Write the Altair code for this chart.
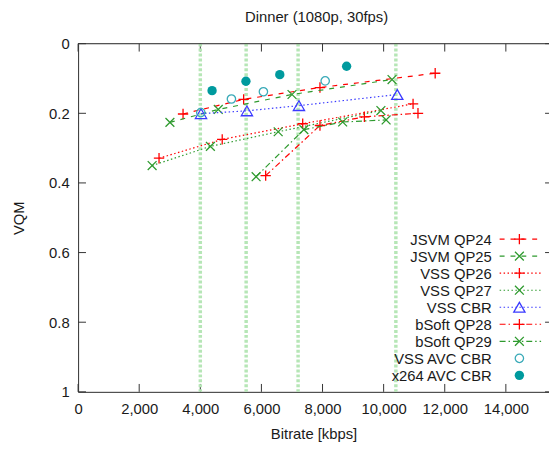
import altair as alt
import pandas as pd

# ---------------- data ----------------
title_text = "Dinner (1080p, 30fps)"
x_title = "Bitrate [kbps]"
y_title = "VQM"

series_names = ["JSVM QP24", "JSVM QP25", "VSS QP26", "VSS QP27", "VSS CBR",
                "bSoft QP28", "bSoft QP29", "VSS AVC CBR", "x264 AVC CBR"]

jsvm_qp24_rate = [3435, 5418, 7916, 11687]
jsvm_qp24_vqm = [0.202, 0.160, 0.126, 0.085]
jsvm_qp25_rate = [3005, 4588, 7001, 10275]
jsvm_qp25_vqm = [0.226, 0.189, 0.146, 0.103]
vss_qp26_rate = [2649, 4717, 7351, 10963]
vss_qp26_vqm = [0.329, 0.275, 0.230, 0.173]
vss_qp27_rate = [2423, 4330, 6549, 9910]
vss_qp27_vqm = [0.350, 0.295, 0.253, 0.192]
vss_cbr_rate = [4023, 5525, 7228, 10446]
vss_cbr_vqm = [0.201, 0.193, 0.178, 0.146]
bsoft_qp28_rate = [6139, 7916, 9370, 11124]
bsoft_qp28_vqm = [0.379, 0.235, 0.210, 0.200]
bsoft_qp29_rate = [5826, 7389, 8659, 10081]
bsoft_qp29_vqm = [0.382, 0.247, 0.225, 0.219]
vss_avc_rate = [4016, 5018, 6065, 8087]
vss_avc_vqm = [0.198, 0.159, 0.138, 0.107]
x264_avc_rate = [4385, 5493, 6601, 8788]
x264_avc_vqm = [0.135, 0.108, 0.089, 0.065]

target_rates = [4000, 5500, 7200, 10400]
x_ticks = [0, 2000, 4000, 6000, 8000, 10000, 12000, 14000]
y_ticks = [0, 0.2, 0.4, 0.6, 0.8, 1.0]

# ---------------- styles ----------------
W, H = 477, 352.7
X_MAX = 15412
FONT = "Liberation Sans"
TXT = "#1a1a1a"
AX = "#333333"
RED, GREEN, BLUE = "#ff0000", "#2e9a2e", "#3a3aff"
TEAL_FILL, TEAL_OPEN = "#009a9e", "#3aaab8"
PLUS = "M-1,0L1,0M0,-1L0,1"
XMARK = "M-1,-1L1,1M-1,1L1,-1"
DASH = [5, 6]
DOT = [1.5, 2.5]
DASHDOT = [6, 3, 1.5, 3]

series = [
    (series_names[0], jsvm_qp24_rate, jsvm_qp24_vqm, RED, DASH, PLUS, 110, False),
    (series_names[1], jsvm_qp25_rate, jsvm_qp25_vqm, GREEN, DASH, XMARK, 80, False),
    (series_names[2], vss_qp26_rate, vss_qp26_vqm, RED, DOT, PLUS, 110, False),
    (series_names[3], vss_qp27_rate, vss_qp27_vqm, GREEN, DOT, XMARK, 80, False),
    (series_names[4], vss_cbr_rate, vss_cbr_vqm, BLUE, DOT, "triangle-up", 130, False),
    (series_names[5], bsoft_qp28_rate, bsoft_qp28_vqm, RED, DASHDOT, PLUS, 110, False),
    (series_names[6], bsoft_qp29_rate, bsoft_qp29_vqm, GREEN, DASHDOT, XMARK, 80, False),
    (series_names[7], vss_avc_rate, vss_avc_vqm, TEAL_OPEN, None, "circle", 72, False),
    (series_names[8], x264_avc_rate, x264_avc_vqm, TEAL_FILL, None, "circle", 90, True),
]

xscale = alt.Scale(domain=[0, X_MAX], nice=False, zero=False)
yscale = alt.Scale(domain=[0, 1], nice=False, zero=False, reverse=True)

xaxis = alt.Axis(values=x_ticks, format=",.0f", title=x_title, labelPadding=10,
                 titlePadding=10)
yaxis = alt.Axis(values=y_ticks, format=".1~f", title=y_title, labelPadding=9,
                 titlePadding=22)


def X(field):
    return alt.X(field, type="quantitative", scale=xscale, axis=xaxis)


def Y(field):
    return alt.Y(field, type="quantitative", scale=yscale, axis=yaxis)


one = pd.DataFrame({"a": [0]})
layers = []

# inward ticks drawn as rules
xt = pd.DataFrame({"v": x_ticks})
yt = pd.DataFrame({"v": y_ticks})
layers.append(alt.Chart(xt).mark_rule(color=AX, strokeWidth=1).encode(
    x=X("v"), y=alt.value(H), y2=alt.value(H - 8)))
layers.append(alt.Chart(yt).mark_rule(color=AX, strokeWidth=1).encode(
    y=Y("v"), x=alt.value(0), x2=alt.value(8)))
layers.append(alt.Chart(xt).mark_rule(color=AX, strokeWidth=1).encode(
    x=X("v"), y=alt.value(0), y2=alt.value(8)))
layers.append(alt.Chart(yt).mark_rule(color=AX, strokeWidth=1).encode(
    y=Y("v"), x=alt.value(W - 4), x2=alt.value(W)))

# target bitrate lines
tdf = pd.DataFrame({"rate": target_rates})
layers.append(
    alt.Chart(tdf).mark_rule(color="#b6e6b6", strokeWidth=3.5, strokeDash=[3, 2]).encode(
        x=X("rate"), y=alt.value(0), y2=alt.value(H),
    )
)
# frame: top border
layers.append(alt.Chart(one).mark_rule(color=AX, strokeWidth=1).encode(
    x=alt.value(0), x2=alt.value(W), y=alt.value(0)))

# series
for name, rates, vqms, color, dash, shape, size, filled in series:
    df = pd.DataFrame({"rate": rates, "vqm": vqms})
    enc = dict(x=X("rate"), y=Y("vqm"))
    if dash is not None:
        layers.append(alt.Chart(df).mark_line(color=color, strokeWidth=1.2,
                                              strokeDash=dash).encode(**enc))
    layers.append(alt.Chart(df).mark_point(shape=shape, size=size, filled=filled,
                                           color=color, strokeWidth=1.3,
                                           opacity=1).encode(**enc))

# legend (right-aligned labels, sample on the right)
LX_TEXT, LX0, LX1, LXM = 419, 427, 469, 447
LY0, LDY = 198, 17.25
for i, (name, rates, vqms, color, dash, shape, size, filled) in enumerate(series):
    yy = LY0 + i * LDY
    layers.append(alt.Chart(one).mark_text(text=name, align="right", baseline="middle",
                                           font=FONT, fontSize=15, color=TXT).encode(
        x=alt.value(LX_TEXT), y=alt.value(yy + 1)))
    if dash is not None:
        layers.append(alt.Chart(one).mark_rule(color=color, strokeWidth=1.2,
                                               strokeDash=dash).encode(
            x=alt.value(LX0), x2=alt.value(LX1), y=alt.value(yy)))
    layers.append(alt.Chart(one).mark_point(shape=shape, size=size, filled=filled,
                                            color=color, strokeWidth=1.3, opacity=1).encode(
        x=alt.value(LXM), y=alt.value(yy)))

# chart title as text
layers.append(alt.Chart(one).mark_text(text=title_text, align="center", baseline="alphabetic",
                                       font=FONT, fontSize=15, color=TXT).encode(
    x=alt.value(W / 2 + 3), y=alt.value(-22)))

chart = alt.layer(*layers).properties(
    width=W, height=H,
    padding={"left": 71, "top": 33.3, "right": 0, "bottom": 50},
    autosize="none",
).configure_view(stroke=None).configure(background="white").configure_axis(
    ticks=False, grid=False, domain=True, domainColor=AX, domainWidth=1,
    labelFont=FONT, labelFontSize=15, labelColor=TXT, labelFlush=False,
    titleFont=FONT, titleFontSize=15, titleFontWeight="normal", titleColor=TXT,
)

chart.save("out.html", embed_options={"renderer": "svg", "actions": False})
